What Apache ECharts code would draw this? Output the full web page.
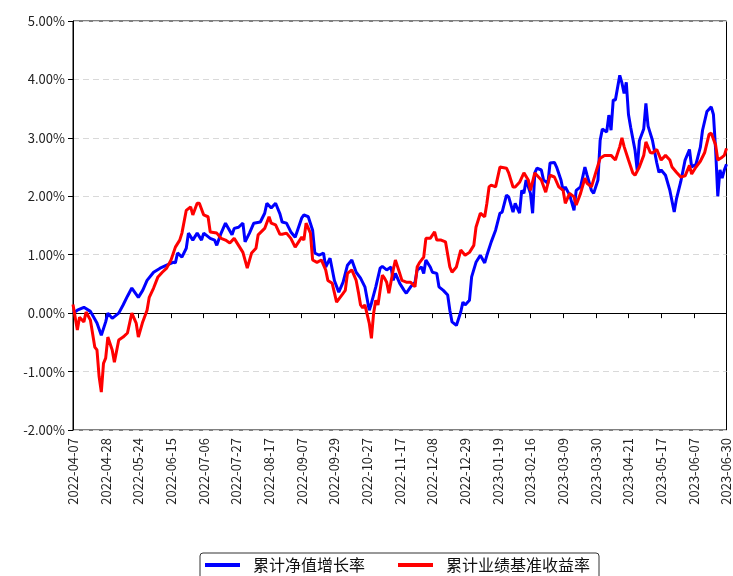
<!DOCTYPE html>
<html>
<head>
<meta charset="utf-8">
<script src="https://cdn.jsdelivr.net/npm/echarts@6/dist/echarts.min.js"></script>
<style>
  html, body { margin: 0; padding: 0; background: #fff; }
  #main { width: 733px; height: 576px; }
</style>
</head>
<body>
<div id="main"></div>
<script>
// 交易日：起止日期 + 休市日 + 额外披露日（年末）
const startDay = "2022-04-07";
const endDay = "2023-06-30";
const holidays = [
    "2022-05-02", "2022-05-03", "2022-05-04", "2022-06-03", "2022-09-12",
    "2022-10-03", "2022-10-04", "2022-10-05", "2022-10-06", "2022-10-07",
    "2023-01-02", "2023-01-23", "2023-01-24", "2023-01-25", "2023-01-26", "2023-01-27",
    "2023-04-05", "2023-05-01", "2023-05-02", "2023-05-03", "2023-06-22", "2023-06-23"
];
const extraDays = ["2022-12-31"];

// [交易日序号, 收益率%]
const navPts = [[0,0.00],[2,0.05],[5,0.10],[8,0.03],[11,-0.17],[13,-0.38],[15,-0.15],[16,0.0],[18,-0.09],[21,0.0],[23,0.14],[25,0.29],[27,0.43],[30,0.27],[32,0.39],[34,0.56],[37,0.70],[40,0.77],[43,0.82],[46,0.87],[47,0.86],[48,1.03],[50,0.96],[52,1.11],[53,1.37],[55,1.25],[57,1.37],[59,1.25],[60,1.37],[63,1.28],[65,1.25],[66,1.16],[68,1.37],[70,1.54],[73,1.34],[74,1.45],[76,1.47],[78,1.54],[79,1.22],[81,1.37],[83,1.54],[86,1.56],[88,1.71],[89,1.88],[91,1.80],[93,1.88],[95,1.70],[96,1.56],[98,1.54],[100,1.39],[102,1.30],[105,1.63],[106,1.68],[108,1.65],[110,1.42],[111,1.03],[113,0.99],[115,1.03],[116,0.79],[118,0.94],[120,0.56],[122,0.36],[124,0.53],[126,0.82],[128,0.91],[130,0.70],[132,0.60],[134,0.45],[136,0.05],[137,0.17],[139,0.45],[141,0.77],[142,0.80],[144,0.74],[146,0.79],[147,0.56],[148,0.68],[150,0.51],[152,0.39],[153,0.34],[155,0.45],[157,0.53],[158,0.74],[160,0.79],[161,0.68],[162,0.91],[164,0.79],[165,0.70],[167,0.68],[168,0.45],[170,0.39],[172,0.31],[173,0.05],[174,-0.15],[176,-0.21],[178,0.02],[179,0.19],[180,0.14],[182,0.22],[183,0.62],[185,0.87],[187,0.99],[189,0.86],[190,0.99],[192,1.22],[194,1.42],[196,1.71],[197,1.73],[199,2.02],[200,1.99],[202,1.73],[203,1.88],[205,1.71],[206,2.10],[207,2.05],[208,2.28],[210,2.05],[211,1.71],[212,2.40],[213,2.48],[215,2.45],[216,2.28],[218,2.22],[219,2.57],[221,2.58],[222,2.50],[224,2.28],[225,2.10],[226,2.16],[228,2.02],[230,1.76],[231,2.10],[233,2.16],[235,2.50],[236,2.36],[238,2.10],[239,2.05],[241,2.28],[242,2.96],[243,3.15],[245,3.10],[246,3.39],[247,3.13],[248,3.65],[249,3.65],[251,4.07],[252,3.94],[253,3.76],[254,3.95],[255,3.40],[256,3.18],[258,2.79],[259,2.45],[260,2.95],[262,3.15],[263,3.59],[264,3.20],[266,2.96],[268,2.57],[269,2.41],[270,2.45],[272,2.36],[274,2.10],[276,1.73],[277,1.95],[279,2.25],[281,2.62],[283,2.80],[284,2.50],[286,2.55],[288,2.84],[289,3.13],[291,3.45],[293,3.53],[294,3.40],[295,2.80],[296,2.00],[297,2.45],[298,2.31],[299,2.45],[300,2.55]];

const benchPts = [[0,0.15],[2,-0.29],[3,-0.07],[5,-0.15],[6,0.02],[8,-0.12],[10,-0.58],[11,-0.63],[12,-1.09],[13,-1.35],[14,-0.86],[15,-0.77],[16,-0.41],[18,-0.63],[19,-0.84],[21,-0.46],[23,-0.41],[25,-0.34],[27,0.0],[29,-0.17],[30,-0.41],[32,-0.15],[34,0.05],[35,0.27],[37,0.43],[39,0.62],[41,0.70],[43,0.77],[45,0.91],[47,1.13],[49,1.25],[50,1.37],[52,1.76],[54,1.82],[55,1.68],[57,1.88],[58,1.88],[60,1.68],[62,1.65],[63,1.39],[66,1.37],[68,1.28],[70,1.25],[72,1.20],[74,1.28],[76,1.16],[78,1.04],[80,0.77],[82,1.03],[84,1.11],[85,1.34],[88,1.45],[90,1.65],[91,1.54],[93,1.51],[95,1.35],[96,1.35],[98,1.37],[100,1.28],[102,1.13],[105,1.30],[106,1.25],[107,1.54],[109,1.37],[110,0.91],[112,0.87],[114,0.91],[116,0.74],[117,0.56],[119,0.51],[121,0.19],[124,0.34],[125,0.39],[126,0.68],[128,0.74],[130,0.56],[131,0.36],[132,0.14],[133,0.09],[134,0.14],[136,-0.17],[137,-0.43],[138,0.0],[139,0.22],[140,0.14],[142,0.65],[143,0.60],[144,0.53],[145,0.34],[147,0.74],[148,0.91],[150,0.68],[151,0.56],[153,0.53],[155,0.53],[157,0.45],[158,0.79],[159,0.86],[161,0.96],[162,1.28],[164,1.28],[166,1.39],[167,1.25],[169,1.25],[171,1.22],[173,0.79],[174,0.70],[176,0.79],[178,1.08],[180,0.99],[182,1.04],[184,1.16],[185,1.47],[187,1.71],[189,1.65],[190,1.88],[191,2.16],[192,2.19],[194,2.16],[196,2.50],[199,2.48],[200,2.40],[202,2.16],[203,2.16],[205,2.24],[207,2.40],[209,2.28],[210,2.10],[212,2.40],[215,2.28],[217,2.07],[219,2.36],[221,2.33],[223,2.16],[225,2.10],[226,1.88],[228,2.05],[230,1.99],[231,1.85],[233,2.05],[235,2.31],[236,2.22],[238,2.16],[240,2.41],[242,2.65],[244,2.70],[247,2.70],[249,2.62],[251,2.85],[252,3.00],[253,2.85],[255,2.62],[257,2.40],[258,2.36],[260,2.50],[262,2.70],[263,2.93],[265,2.75],[266,2.74],[268,2.80],[270,2.62],[272,2.70],[274,2.62],[275,2.50],[277,2.41],[279,2.33],[281,2.35],[283,2.53],[284,2.38],[286,2.50],[288,2.60],[290,2.75],[292,3.06],[293,3.08],[295,2.88],[296,2.62],[298,2.67],[299,2.70],[300,2.82]];

const seriesNames = ["累计净值增长率", "累计业绩基准收益率"];

// 生成日期列表
function tradingDays(from, to, closed, extra) {
    let out = [];
    let d = new Date(from + "T00:00:00Z");
    let end = new Date(to + "T00:00:00Z");
    while (d <= end) {
        let s = d.toISOString().slice(0, 10);
        let wd = d.getUTCDay();
        if ((wd !== 0 && wd !== 6 && closed.indexOf(s) < 0) || extra.indexOf(s) >= 0) out.push(s);
        d.setUTCDate(d.getUTCDate() + 1);
    }
    return out;
}
const dates = tradingDays(startDay, endDay, holidays, extraDays);

let chart = echarts.init(document.getElementById("main"));
let option = {
    animation: false,
    backgroundColor: "#fff",
    grid: {
        left: 73, right: 3, top: 21, bottom: 146,
        show: true, borderColor: "#000", borderWidth: 1
    },
    legend: {
        data: seriesNames,
        left: 200,
        top: 553,
        padding: [4, 9, 10, 5],
        itemWidth: 35,
        itemHeight: 4,
        itemGap: 33,
        icon: "rect",
        borderColor: "#333",
        borderWidth: 1,
        borderRadius: 3,
        textStyle: {
            fontFamily: "Noto Sans CJK SC",
            fontSize: 16,
            color: "#111",
            padding: [0, 0, 0, 8]
        }
    },
    xAxis: {
        type: "category",
        data: dates,
        boundaryGap: false,
        axisLine: { lineStyle: { color: "#000", width: 1 } },
        axisTick: { interval: 14, length: 5, lineStyle: { color: "#000" } },
        axisLabel: {
            interval: 14,
            rotate: 90,
            margin: 8,
            fontFamily: "Noto Sans CJK SC",
            fontSize: 13,
            color: "#222"
        },
        splitLine: { show: false }
    },
    yAxis: {
        type: "value",
        min: -2,
        max: 5,
        interval: 1,
        axisLine: { show: true, lineStyle: { color: "#000", width: 1 } },
        axisTick: { show: true, length: 5, lineStyle: { color: "#000" } },
        axisLabel: {
            formatter: (v) => v.toFixed(2) + "%",
            fontFamily: "Noto Sans CJK SC",
            fontSize: 13,
            color: "#222",
            margin: 8
        },
        splitLine: { lineStyle: { color: "#d9d9d9", type: [6, 4], width: 1.2 } }
    },
    series: [{
        name: seriesNames[0],
        type: "line",
        data: navPts,
        showSymbol: false,
        color: "#0000ff",
        lineStyle: { width: 3, color: "#0000ff" }
    }, {
        name: seriesNames[1],
        type: "line",
        data: benchPts,
        showSymbol: false,
        color: "#ff0000",
        lineStyle: { width: 3, color: "#ff0000" }
    }]
};
chart.setOption(option);
</script>
</body>
</html>
